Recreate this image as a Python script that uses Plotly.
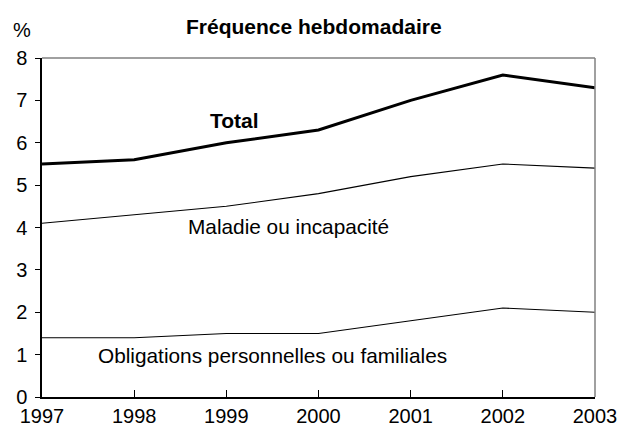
import plotly.graph_objects as go

years = [1997, 1998, 1999, 2000, 2001, 2002, 2003]
total = [5.5, 5.6, 6.0, 6.3, 7.0, 7.6, 7.3]
maladie = [4.1, 4.3, 4.5, 4.8, 5.2, 5.5, 5.4]
obligations = [1.4, 1.4, 1.5, 1.5, 1.8, 2.1, 2.0]
y_ticks = [0, 1, 2, 3, 4, 5, 6, 7, 8]

FONT = "Liberation Sans, Arial, sans-serif"

fig = go.Figure()
fig.add_trace(go.Scatter(x=years, y=total, mode="lines", line=dict(color="black", width=3), name="Total"))
fig.add_trace(go.Scatter(x=years, y=maladie, mode="lines", line=dict(color="black", width=1.1), name="Maladie ou incapacité"))
fig.add_trace(go.Scatter(x=years, y=obligations, mode="lines", line=dict(color="black", width=1.1), name="Obligations personnelles ou familiales"))

fig.add_annotation(x=1999.09, y=6.53, text="<b>Total</b>", showarrow=False, font=dict(size=21, color="black", family=FONT))
fig.add_annotation(x=1999.67, y=4.03, text="Maladie ou incapacité", showarrow=False, font=dict(size=20.8, color="black", family=FONT))
fig.add_annotation(x=1999.5, y=0.99, text="Obligations personnelles ou familiales", showarrow=False, font=dict(size=20.8, color="black", family=FONT))

fig.add_annotation(xref="paper", yref="paper", x=-0.036, y=1.083, text="%", showarrow=False,
                   font=dict(size=20, color="black", family=FONT), xanchor="center", yanchor="middle")
fig.add_annotation(xref="paper", yref="paper", x=0.492, y=1.093, text="<b>Fréquence hebdomadaire</b>", showarrow=False,
                   font=dict(size=21, color="black", family=FONT), xanchor="center", yanchor="middle")

# top and right borders (grey)
fig.add_shape(type="line", xref="paper", yref="paper", x0=1, x1=1, y0=0, y1=1, line=dict(color="#808080", width=1.5))
fig.add_shape(type="line", xref="paper", yref="paper", x0=0, x1=1, y0=1, y1=1, line=dict(color="#808080", width=1.5))

fig.update_layout(
    width=620, height=427,
    margin=dict(l=42, r=25, t=58, b=30, autoexpand=False),
    paper_bgcolor="white", plot_bgcolor="white",
    showlegend=False,
    font=dict(family=FONT, color="black", size=20),
    xaxis=dict(range=[1997, 2003], tickvals=years, ticktext=[str(y) for y in years],
               ticks="inside", ticklen=7, tickcolor="black", showgrid=False, zeroline=False,
               showline=True, linecolor="black", linewidth=1.5, tickfont=dict(size=20, family=FONT),
               automargin=False),
    yaxis=dict(range=[0, 8], tickvals=y_ticks, ticks="outside", ticklen=5, tickcolor="black",
               showgrid=False, zeroline=False, showline=True, linecolor="black", linewidth=1.5,
               tickfont=dict(size=20, family=FONT), automargin=False, ticklabelstandoff=4),
)

fig.write_html("out.html", config={"displayModeBar": False},
               post_script="document.body.style.margin='0';document.body.style.overflow='hidden';")
